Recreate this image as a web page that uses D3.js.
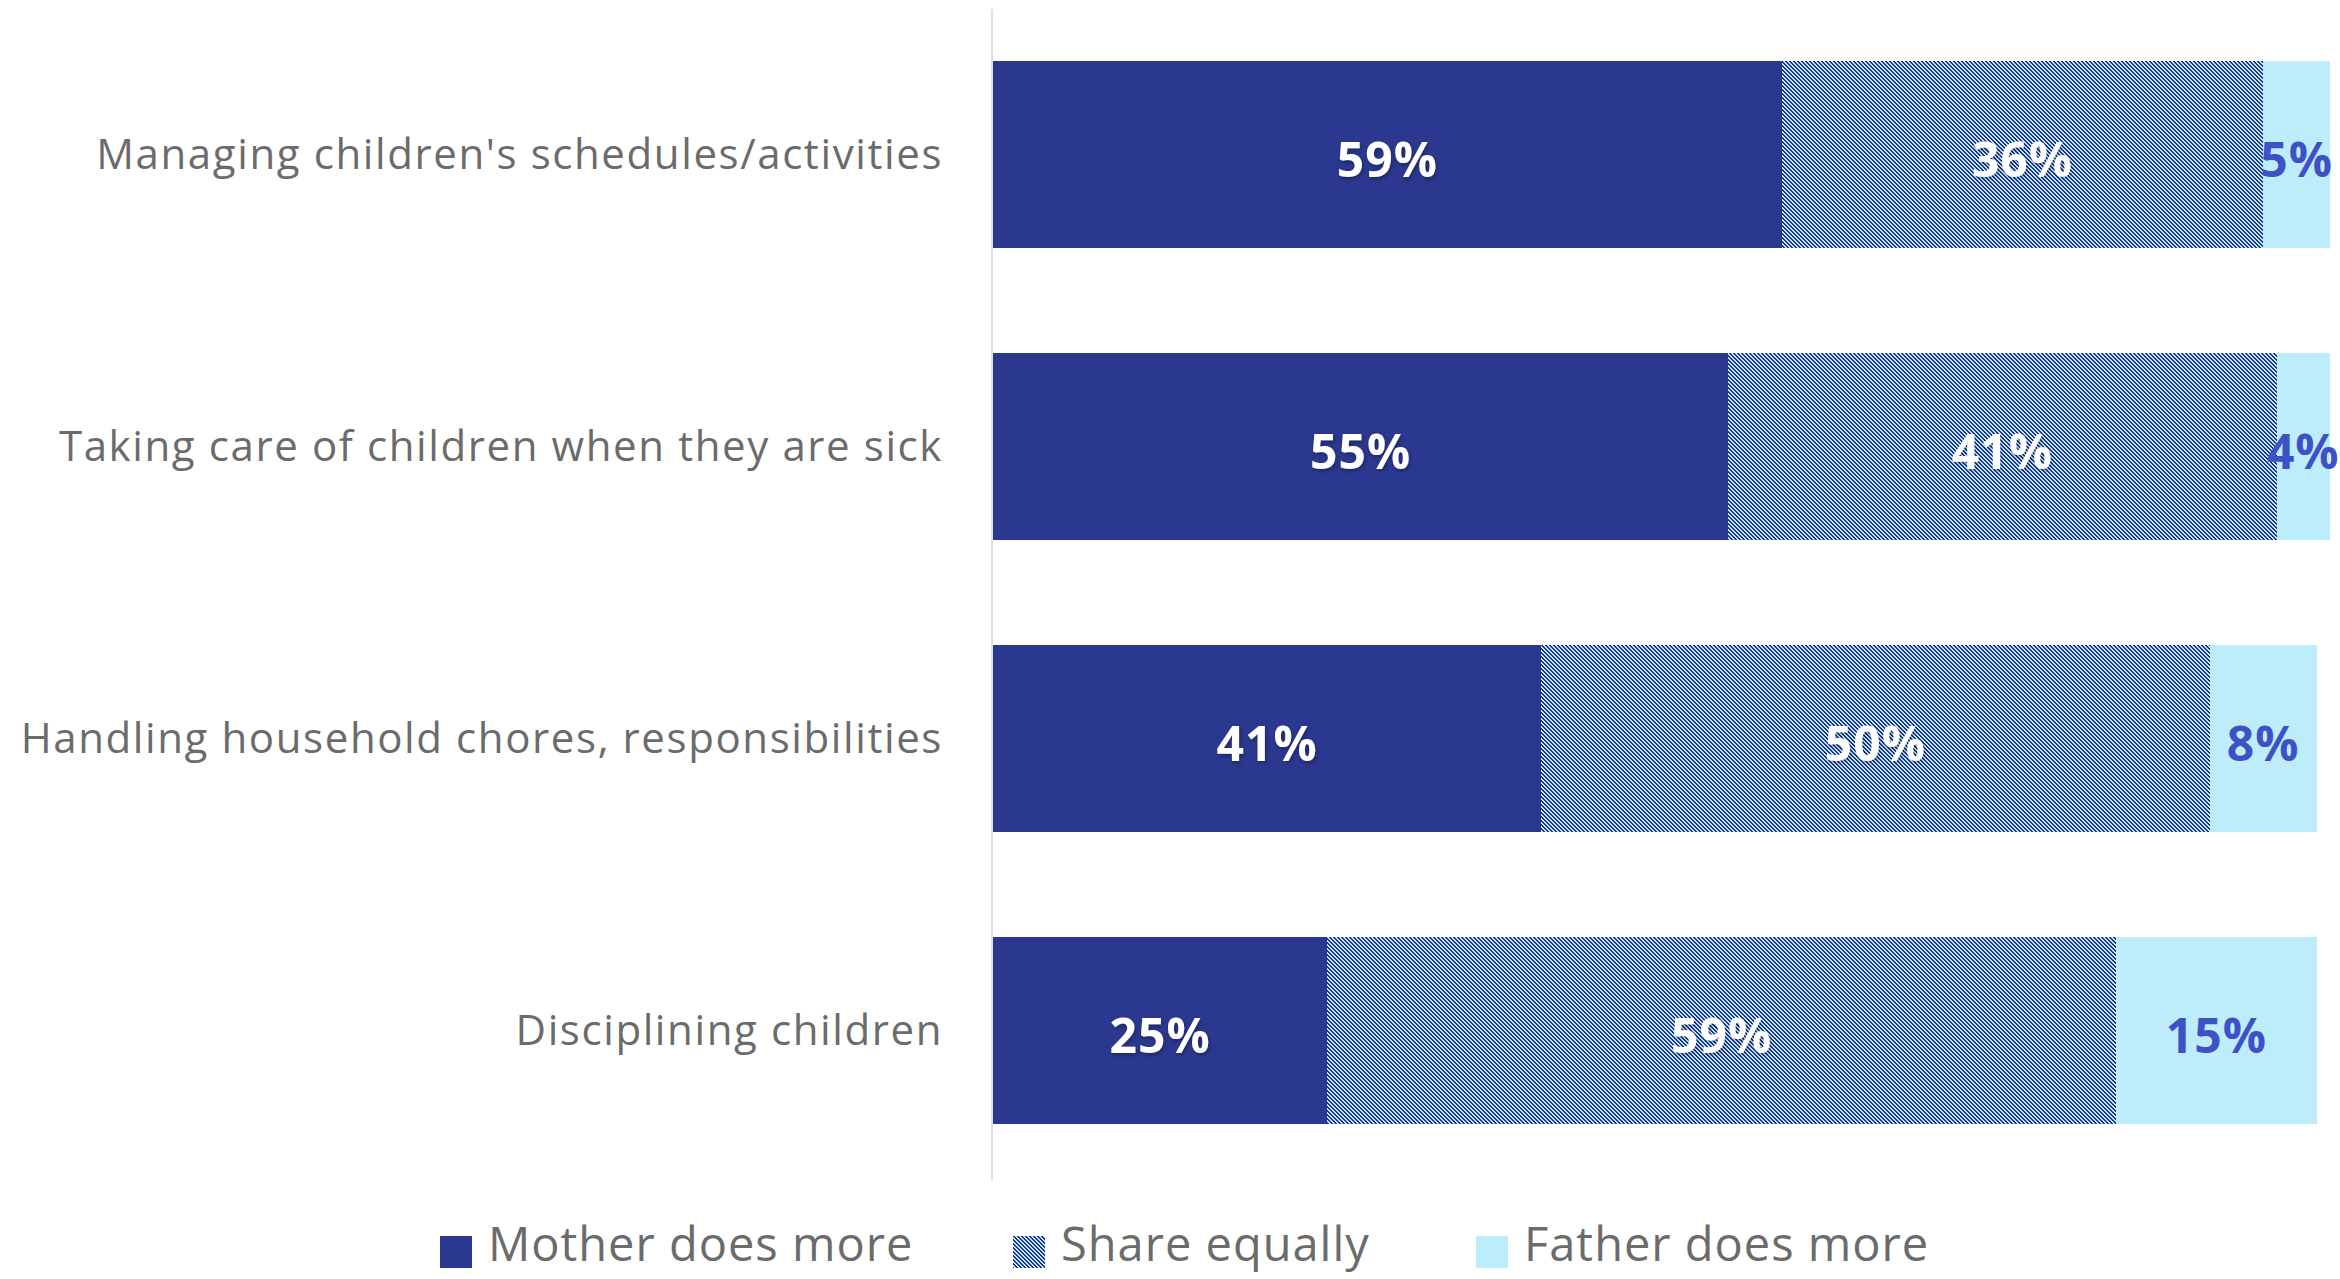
<!DOCTYPE html>
<html>
<head>
<meta charset="utf-8">
<script src="https://cdn.jsdelivr.net/npm/d3@7"></script>
<style>
  html, body { margin: 0; padding: 0; background: #ffffff; }
  svg { display: block; }
</style>
</head>
<body>
<svg id="chart" width="2340" height="1279"></svg>
<script>
const categories = [
  "Managing children's schedules/activities",
  "Taking care of children when they are sick",
  "Handling household chores, responsibilities",
  "Disciplining children"
];
const seriesNames = ["Mother does more", "Share equally", "Father does more"];
const mother = [59, 55, 41, 25];
const share = [36, 41, 50, 59];
const father = [5, 4, 8, 15];

const W = 2340, H = 1279;
const svg = d3.select("#chart");
const fontFamily = "'Open Sans', 'Noto Sans', sans-serif";

const colors = { mother: "#2b388f", light: "#bdedfb", hatchDark: "#23308a", fatherText: "#3f51c6" };

const defs = svg.append("defs");
const pat = defs.append("pattern")
  .attr("id", "hatch")
  .attr("patternUnits", "userSpaceOnUse")
  .attr("width", 4).attr("height", 4);
pat.append("rect").attr("width", 4).attr("height", 4).attr("fill", colors.light);
// staircase "\" stripes, 2px dark / 2px light per row
[0, 1, 2, 3].forEach(r => {
  [r, r + 1].forEach(c => {
    pat.append("rect")
      .attr("x", c % 4).attr("y", r).attr("width", 1).attr("height", 1)
      .attr("fill", colors.hatchDark)
      .attr("shape-rendering", "crispEdges");
  });
});

const flt = defs.append("filter").attr("id", "shadow")
  .attr("x", "-20%").attr("y", "-20%").attr("width", "140%").attr("height", "160%");
flt.append("feDropShadow").attr("dx", 1).attr("dy", 2).attr("stdDeviation", 2)
  .attr("flood-color", "#000").attr("flood-opacity", 0.35);

const rows = categories.map((c, i) => ({ cat: c, mother: mother[i], share: share[i], father: father[i] }));
const keys = ["mother", "share", "father"];
const stack = d3.stack().keys(keys)(rows);

const x = d3.scaleLinear().domain([0, 100]).range([993, 2330]);
const y = d3.scaleBand().domain(categories).range([61, 1124]).paddingInner(0.36).paddingOuter(0);

// axis line
svg.append("line")
  .attr("x1", 992).attr("x2", 992)
  .attr("y1", 9).attr("y2", 1180)
  .attr("stroke", "#dcdff0").attr("stroke-width", 2);

const fills = { mother: colors.mother, share: "url(#hatch)", father: colors.light };

const layer = svg.append("g").selectAll("g").data(stack).join("g")
  .attr("fill", d => fills[d.key]);
layer.selectAll("rect").data(d => d).join("rect")
  .attr("x", d => x(d[0]))
  .attr("width", d => x(d[1]) - x(d[0]))
  .attr("y", d => y(d.data.cat))
  .attr("height", y.bandwidth())
  .attr("shape-rendering", "crispEdges");

// value labels
const lbl = svg.append("g");
stack.forEach(s => {
  lbl.selectAll(null).data(s).join("text")
    .attr("x", d => (x(d[0]) + x(d[1])) / 2)
    .attr("y", d => y(d.data.cat) + y.bandwidth() / 2 + 4)
    .attr("text-anchor", "middle")
    .attr("dominant-baseline", "central")
    .attr("font-family", fontFamily)
    .attr("font-weight", 700)
    .attr("font-size", 48)
    .attr("letter-spacing", 1)
    .attr("fill", s.key === "father" ? colors.fatherText : "#ffffff")
    .attr("filter", s.key === "father" ? null : "url(#shadow)")
    .text(d => (d[1] - d[0]) + "%");
});

// category labels
svg.append("g").selectAll("text").data(categories).join("text")
  .attr("x", 943)
  .attr("y", d => y(d) + y.bandwidth() / 2 - 2)
  .attr("text-anchor", "end")
  .attr("dominant-baseline", "central")
  .attr("font-family", fontFamily)
  .attr("font-size", 42)
  .attr("letter-spacing", 1.6)
  .attr("fill", "#6b6b6b")
  .text(d => d);

// legend
const legendItems = [
  { name: seriesNames[0], fill: colors.mother, x: 440 },
  { name: seriesNames[1], fill: "url(#hatch)", x: 1013 },
  { name: seriesNames[2], fill: colors.light, x: 1476 }
];
const lg = svg.append("g").selectAll("g").data(legendItems).join("g")
  .attr("transform", d => `translate(${d.x},1236)`);
lg.append("rect").attr("x", 0).attr("y", 0).attr("width", 32).attr("height", 32)
  .attr("fill", d => d.fill).attr("shape-rendering", "crispEdges");
lg.append("text")
  .attr("x", 48).attr("y", 25)
  .attr("font-family", fontFamily)
  .attr("font-size", 47)
  .attr("letter-spacing", 1)
  .attr("fill", "#6b6b6b")
  .text(d => d.name);
</script>
</body>
</html>
